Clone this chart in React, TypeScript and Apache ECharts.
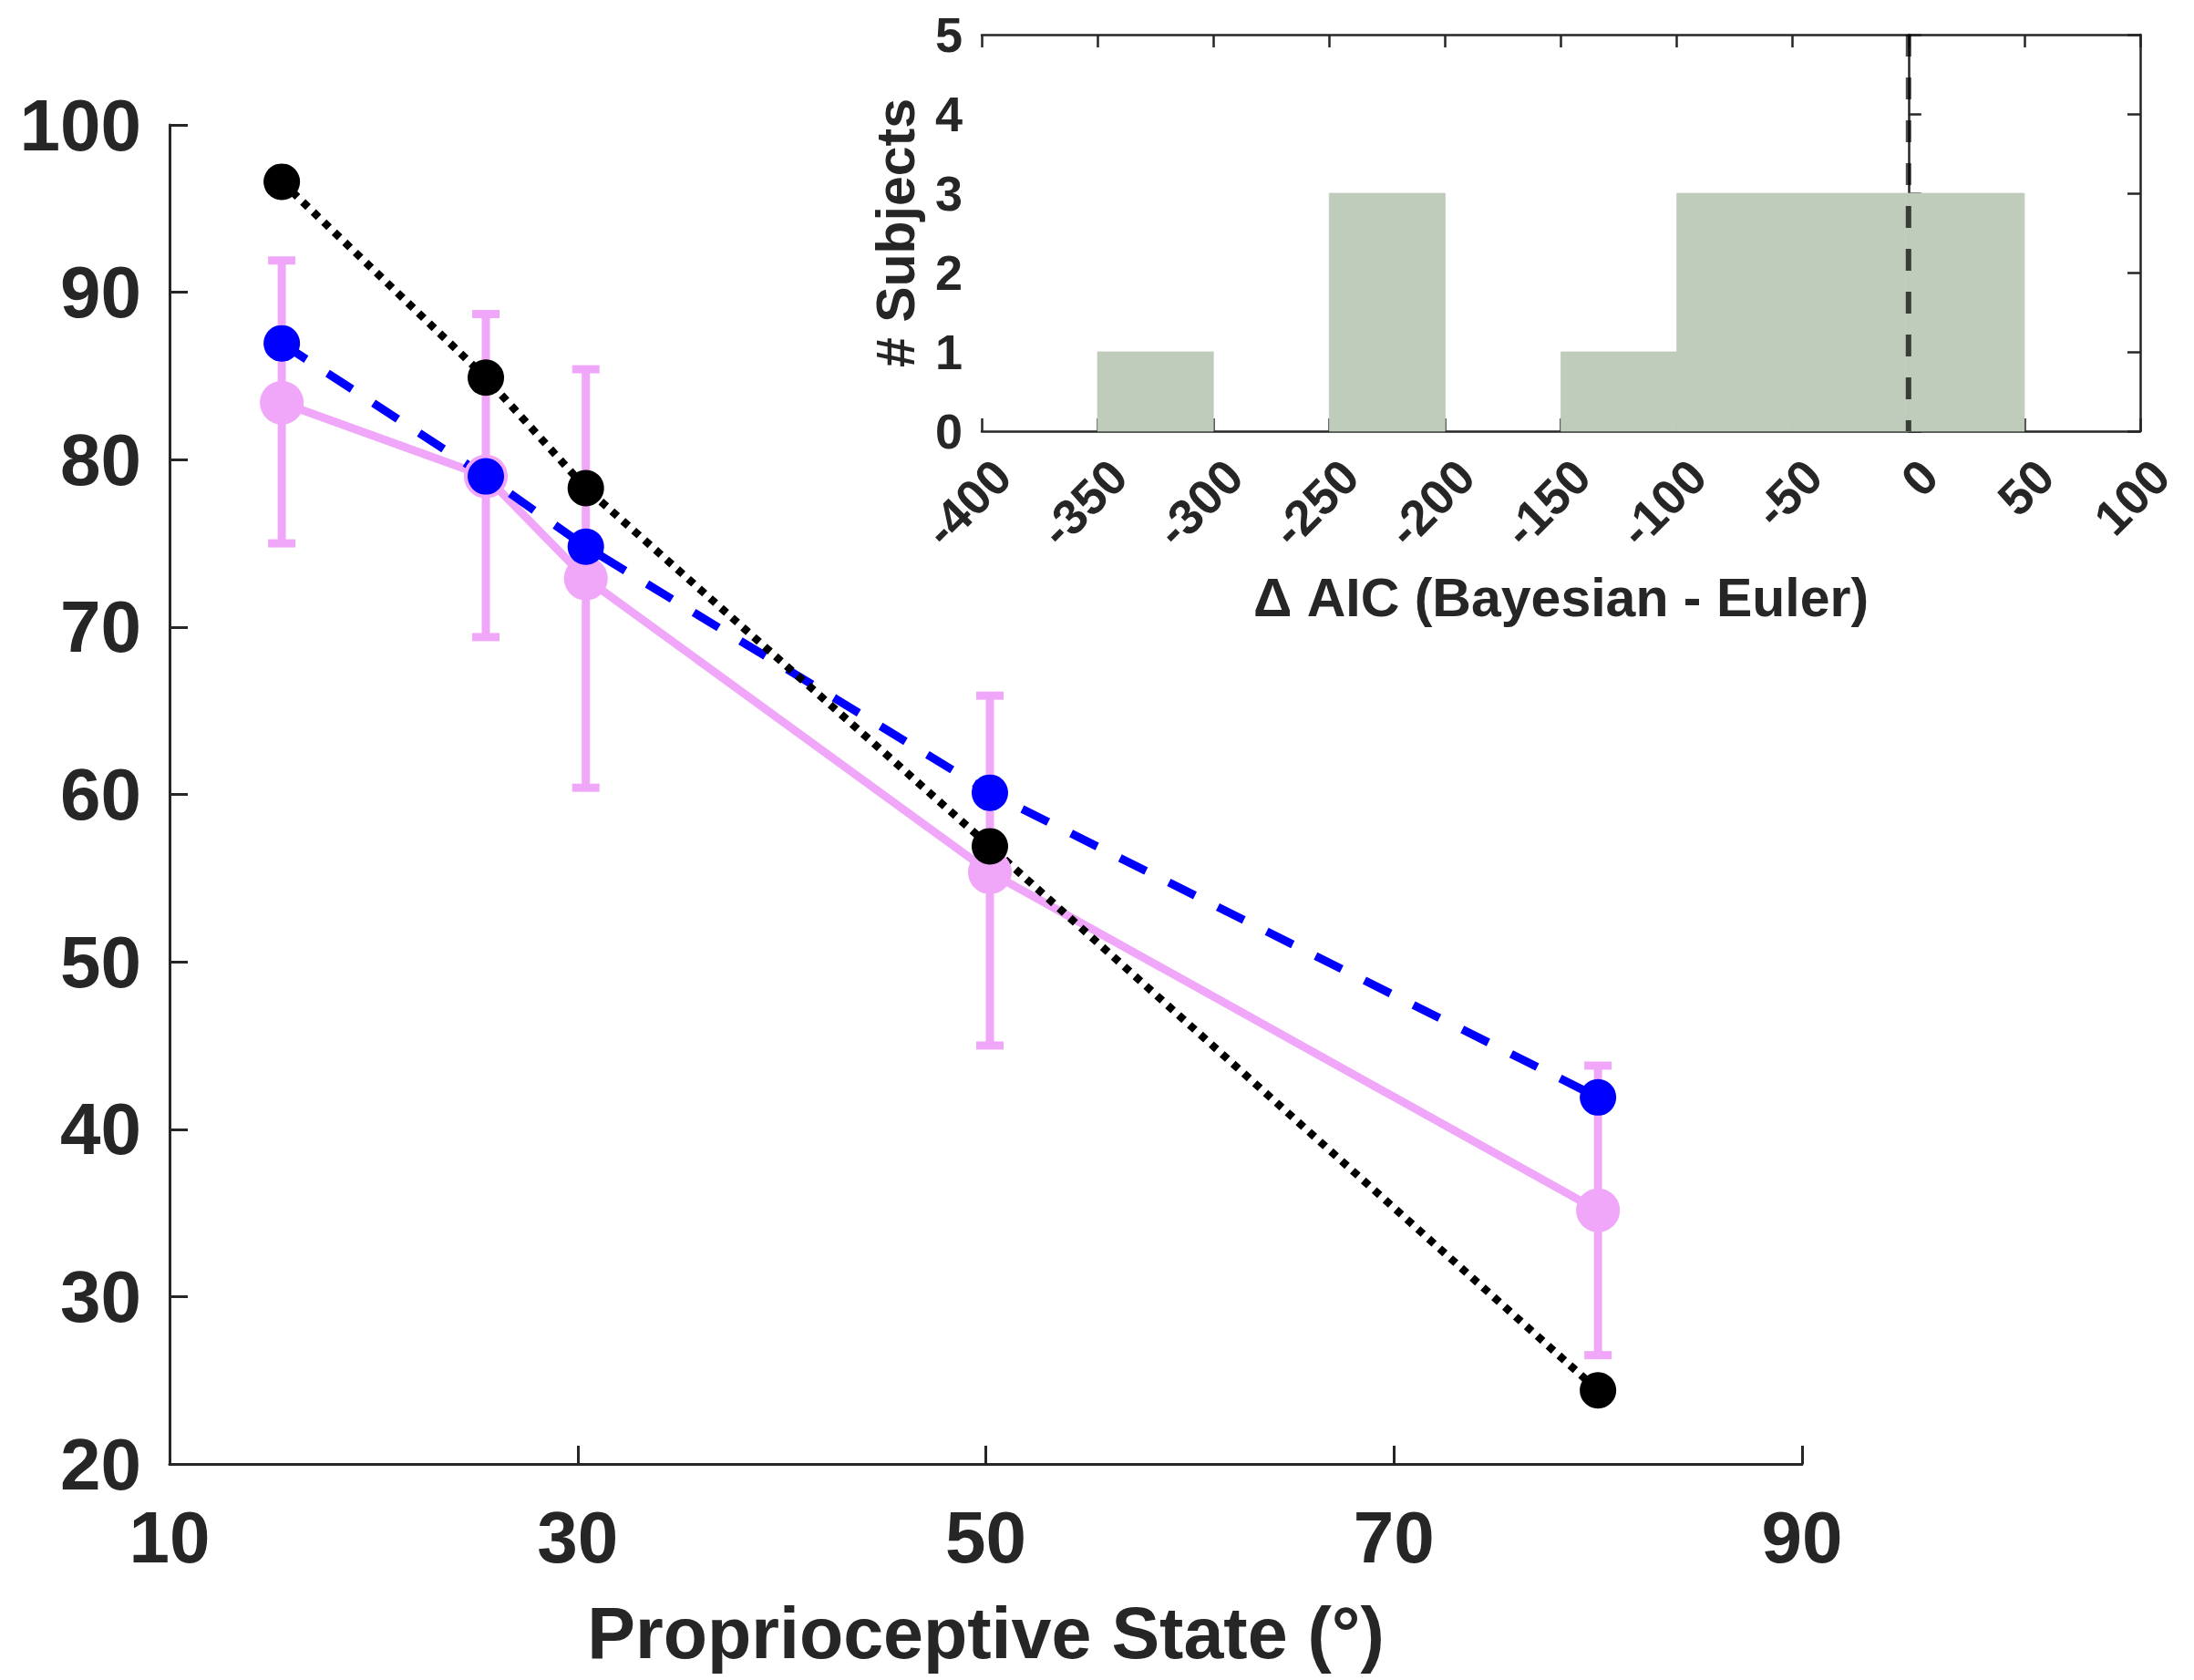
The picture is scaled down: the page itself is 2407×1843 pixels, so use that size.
import React, { useEffect, useRef } from "react";
import * as echarts from "echarts";

// ---- main panel data ----
const states = [15.5, 25.5, 30.4, 50.2, 80.0];
const pinkMean = [83.4, 79.0, 72.9, 55.35, 35.15];
const pinkLow = [75.0, 69.4, 60.4, 45.0, 26.5];
const pinkHigh = [91.9, 88.7, 85.4, 65.9, 43.8];
const blueVals = [86.95, 79.0, 74.8, 60.1, 41.9];
const blackVals = [96.6, 84.9, 78.3, 56.9, 24.4];
const xTickVals = [10, 30, 50, 70, 90];

// ---- inset histogram data ----
const binStarts = [-400, -350, -300, -250, -200, -150, -100, -50, 0, 50];
const binEnds = [-350, -300, -250, -200, -150, -100, -50, 0, 50, 100];
const binCounts = [0, 1, 0, 3, 0, 1, 3, 3, 3, 0];
const refLineX = 0;

const PINK = "#F1A7F9";
const BLUE = "#0000FF";
const BLACK = "#000000";
const BAR = "#BFCBBB";
const TXT = "#262626";
const FONT = "Liberation Sans, Arial, Helvetica, sans-serif";

export default function App() {
  const ref = useRef<HTMLDivElement>(null);

  useEffect(() => {
    if (!ref.current) return;
    const chart = echarts.init(ref.current, null, { renderer: "svg" });

    const pairs = (ys: number[]) => states.map((x, i) => [x, ys[i]]);
    const errData = states.map((x, i) => [x, pinkLow[i], pinkHigh[i]]);
    const histData = binStarts.map((s, i) => [s, binEnds[i], binCounts[i]]);

    const axisLineStyle = { color: TXT, width: 3 };
    const insetLineStyle = { color: TXT, width: 2.5 };

    const option: any = {
      animation: false,
      backgroundColor: "#ffffff",
      textStyle: { fontFamily: FONT },
      grid: [
        { left: 186, top: 137, width: 1791, height: 1469 },
        { left: 1077, top: 38, width: 1271, height: 435 },
      ],
      xAxis: [
        {
          gridIndex: 0,
          type: "value",
          min: 10,
          max: 90,
          interval: 10,
          axisLine: { show: true, lineStyle: axisLineStyle },
          axisTick: {
            show: true,
            inside: true,
            length: 20,
            lineStyle: axisLineStyle,
            customValues: xTickVals,
          },
          axisLabel: {
            customValues: xTickVals,
            fontSize: 80,
            fontWeight: "bold",
            color: TXT,
            fontFamily: FONT,
            margin: 40,
          },
          splitLine: { show: false },
          name: "Proprioceptive State (°)",
          nameLocation: "middle",
          nameGap: 146,
          nameTextStyle: {
            fontSize: 79,
            fontWeight: "bold",
            color: TXT,
            fontFamily: FONT,
          },
        },
        {
          gridIndex: 1,
          type: "value",
          min: -400,
          max: 100,
          interval: 50,
          position: "bottom",
          axisLine: { show: true, lineStyle: insetLineStyle },
          axisTick: { show: true, inside: true, length: 14, lineStyle: insetLineStyle },
          axisLabel: {
            rotate: 45,
            fontSize: 54,
            fontWeight: "bold",
            color: TXT,
            fontFamily: FONT,
            margin: 63,
            padding: [0, -32, 0, 0],
          },
          splitLine: { show: false },
          name: "Δ AIC (Bayesian - Euler)",
          nameLocation: "middle",
          nameGap: 153,
          nameTextStyle: {
            fontSize: 59,
            fontWeight: "bold",
            color: TXT,
            fontFamily: FONT,
          },
        },
        {
          gridIndex: 1,
          type: "value",
          min: -400,
          max: 100,
          interval: 50,
          position: "top",
          axisLine: { show: true, onZero: false, lineStyle: insetLineStyle },
          axisTick: { show: true, inside: true, length: 14, lineStyle: insetLineStyle },
          axisLabel: { show: false },
          splitLine: { show: false },
        },
      ],
      yAxis: [
        {
          gridIndex: 0,
          type: "value",
          min: 20,
          max: 100,
          interval: 10,
          axisLine: { show: true, lineStyle: axisLineStyle },
          axisTick: { show: true, inside: true, length: 20, lineStyle: axisLineStyle },
          axisLabel: {
            fontSize: 80,
            fontWeight: "bold",
            color: TXT,
            fontFamily: FONT,
            margin: 31,
          },
          splitLine: { show: false },
        },
        {
          gridIndex: 1,
          type: "value",
          min: 0,
          max: 5,
          interval: 1,
          axisLine: { show: true, lineStyle: insetLineStyle },
          axisTick: { show: true, inside: true, length: 14, lineStyle: insetLineStyle },
          axisLabel: {
            fontSize: 54,
            fontWeight: "bold",
            color: TXT,
            fontFamily: FONT,
            margin: 21,
          },
          splitLine: { show: false },
          name: "# Subjects",
          nameLocation: "middle",
          nameGap: 65,
          nameTextStyle: {
            fontSize: 59,
            fontWeight: "bold",
            color: TXT,
            fontFamily: FONT,
          },
        },
        {
          gridIndex: 1,
          type: "value",
          min: 0,
          max: 5,
          interval: 1,
          position: "right",
          axisLine: { show: true, onZero: false, lineStyle: insetLineStyle },
          axisTick: { show: true, inside: true, length: 14, lineStyle: insetLineStyle },
          axisLabel: { show: false },
          splitLine: { show: false },
        },
      ],
      series: [
        {
          name: "pinkErr",
          type: "custom",
          xAxisIndex: 0,
          yAxisIndex: 0,
          data: errData,
          renderItem: (params: any, api: any) => {
            const x = api.value(0);
            const lo = api.coord([x, api.value(1)]);
            const hi = api.coord([x, api.value(2)]);
            const cap = 15;
            const style = { stroke: PINK, lineWidth: 9 };
            return {
              type: "group",
              children: [
                { type: "line", shape: { x1: lo[0], y1: lo[1], x2: hi[0], y2: hi[1] }, style },
                { type: "line", shape: { x1: lo[0] - cap, y1: lo[1], x2: lo[0] + cap, y2: lo[1] }, style },
                { type: "line", shape: { x1: hi[0] - cap, y1: hi[1], x2: hi[0] + cap, y2: hi[1] }, style },
              ],
            };
          },
        },
        {
          name: "pink",
          type: "line",
          xAxisIndex: 0,
          yAxisIndex: 0,
          data: pairs(pinkMean),
          symbol: "circle",
          symbolSize: 48,
          itemStyle: { color: PINK, borderWidth: 0 },
          lineStyle: { color: PINK, width: 9 },
        },
        {
          name: "blue",
          type: "line",
          xAxisIndex: 0,
          yAxisIndex: 0,
          data: pairs(blueVals),
          symbol: "circle",
          symbolSize: 40,
          itemStyle: { color: BLUE, borderWidth: 0 },
          lineStyle: { color: BLUE, width: 9, type: [32, 28], cap: "butt" },
        },
        {
          name: "black",
          type: "line",
          xAxisIndex: 0,
          yAxisIndex: 0,
          data: pairs(blackVals),
          symbol: "circle",
          symbolSize: 40,
          itemStyle: { color: BLACK, borderWidth: 0 },
          lineStyle: { color: BLACK, width: 8.5, type: [8, 8], cap: "butt" },
        },
        {
          name: "hist",
          type: "custom",
          xAxisIndex: 1,
          yAxisIndex: 1,
          data: histData,
          renderItem: (params: any, api: any) => {
            const p0 = api.coord([api.value(0), 0]);
            const p1 = api.coord([api.value(1), api.value(2)]);
            return {
              type: "rect",
              shape: { x: p0[0], y: p1[1], width: p1[0] - p0[0], height: p0[1] - p1[1] },
              style: { fill: BAR, stroke: api.value(2) > 0 ? BAR : null, lineWidth: 0.8 },
            };
          },
        },
        {
          name: "zeroLine",
          type: "line",
          xAxisIndex: 1,
          yAxisIndex: 1,
          data: [
            [refLineX, 5],
            [refLineX, 0],
          ],
          symbol: "none",
          lineStyle: { color: "rgba(0,0,0,0.7)", width: 6, type: [24, 23], cap: "butt" },
          z: 5,
        },
      ],
    };

    chart.setOption(option);
    return () => chart.dispose();
  }, []);

  return (
    <div
      ref={ref}
      style={{ position: "fixed", left: 0, top: 0, width: 2407, height: 1843, background: "#fff" }}
    />
  );
}
